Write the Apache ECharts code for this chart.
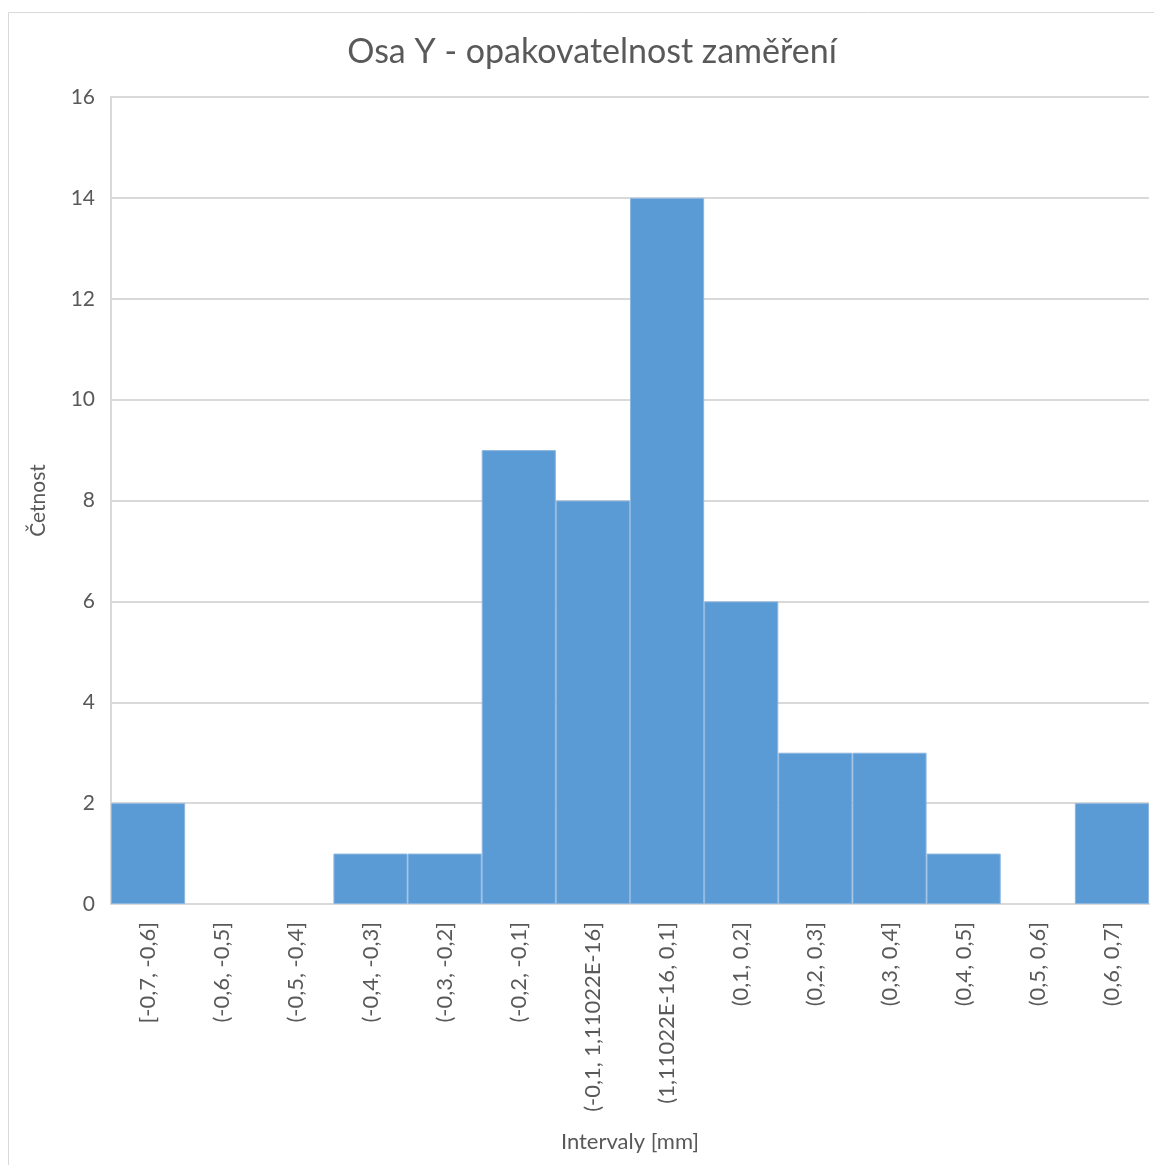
<!DOCTYPE html>
<html><head><meta charset="utf-8">
<script src="https://cdn.jsdelivr.net/npm/echarts@6/dist/echarts.min.js"></script>
<style>html,body{margin:0;padding:0;background:#fff}#c{width:1154px;height:1165px}</style>
</head><body><div id="c"></div>
<script>
const categories = ["[-0,7, -0,6]","(-0,6, -0,5]","(-0,5, -0,4]","(-0,4, -0,3]","(-0,3, -0,2]","(-0,2, -0,1]","(-0,1, 1,11022E-16]","(1,11022E-16, 0,1]","(0,1, 0,2]","(0,2, 0,3]","(0,3, 0,4]","(0,4, 0,5]","(0,5, 0,6]","(0,6, 0,7]"];
const counts = [2,0,0,1,1,9,8,14,6,3,3,1,0,2];
const titleText = "Osa Y - opakovatelnost zaměření";
const xName = "Intervaly [mm]";
const yName = "Četnost";
const FONT = "Lato";
const chart = echarts.init(document.getElementById('c'), null, {renderer:'canvas'});
chart.setOption({
  animation:false,
  backgroundColor:'#fff',
  graphic:[{type:'rect',shape:{x:8.5,y:12.5,width:1160,height:1170},style:{fill:'none',stroke:'#d9d9d9',lineWidth:1},silent:true}],
  title:{text:titleText,left:587,top:30,textAlign:'center',textStyle:{fontFamily:FONT,fontSize:34,fontWeight:'normal',color:'#595959'}},
  grid:{left:111,right:5,top:97,bottom:261},
  xAxis:{type:'category',data:categories,name:xName,nameLocation:'middle',nameGap:227,
    nameTextStyle:{fontFamily:FONT,fontSize:22,color:'#595959'},
    axisLine:{lineStyle:{color:'#d9d9d9',width:2}},axisTick:{show:false},
    axisLabel:{rotate:90,margin:18,interval:0,fontFamily:FONT,fontSize:22,color:'#595959'}},
  yAxis:{type:'value',min:0,max:16,interval:2,name:yName,nameLocation:'middle',nameGap:62,nameRotate:90,
    nameTextStyle:{fontFamily:FONT,fontSize:21,color:'#595959'},
    axisLine:{show:true,lineStyle:{color:'#d9d9d9',width:2}},axisTick:{show:false},
    splitLine:{lineStyle:{color:'#d9d9d9',width:2}},
    axisLabel:{margin:16,fontFamily:FONT,fontSize:21,color:'#595959'}},
  series:[{type:'bar',data:counts.map(v => v === 0 ? '-' : v),barCategoryGap:'0%',itemStyle:{color:'#5b9bd5',borderColor:'#8db6e0',borderWidth:1}}]
});
</script></body></html>
